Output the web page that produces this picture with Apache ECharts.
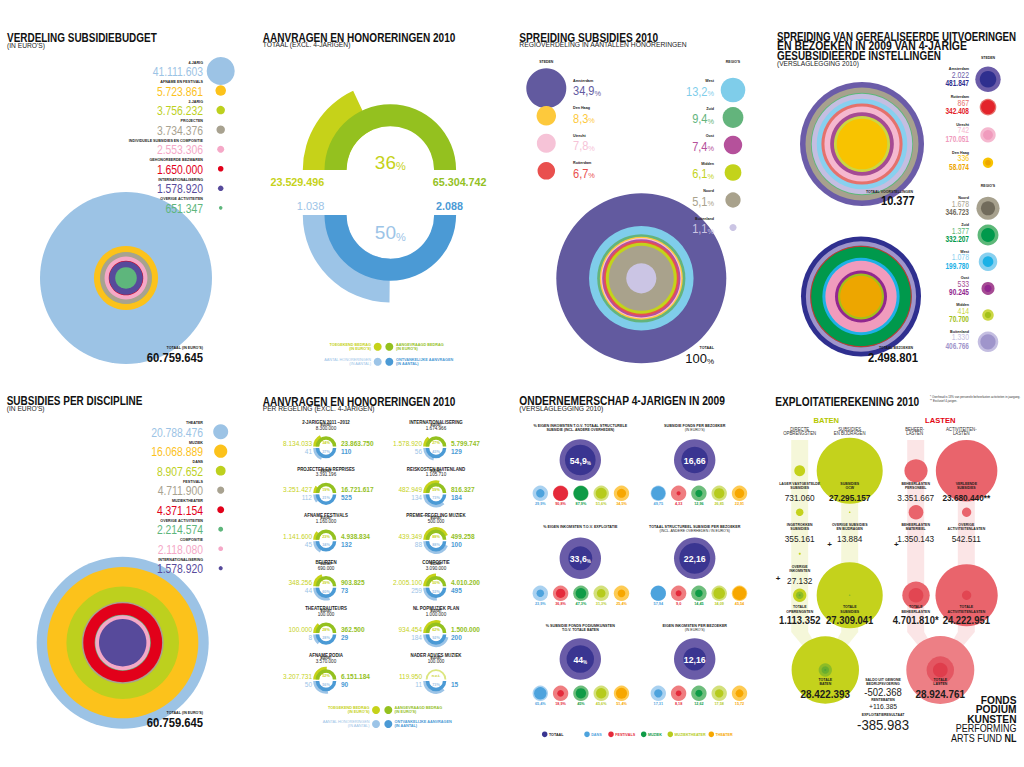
<!DOCTYPE html>
<html lang="nl"><head><meta charset="utf-8"><title>Fonds Podiumkunsten 2010</title>
<script src="https://cdn.jsdelivr.net/npm/echarts@6/dist/echarts.min.js"></script>
<style>html,body{margin:0;padding:0;background:#fff;overflow:hidden}#chart{width:1024px;height:767px}</style>
</head><body><div id="chart"></div>
<script>
// ===================== DATA =====================
const budgetCategories = ['4-JARIG','AFNAME EN FESTIVALS','2-JARIG','PROJECTEN','INDIVIDUELE SUBSIDIES EN COMPOSITIE','GEHONOREERDE BEZWAREN','INTERNATIONALISERING','OVERIGE ACTIVITEITEN'];
const budgetValues = [41111603, 5723861, 3756232, 3734376, 2553306, 1650000, 1578920, 651347];
const budgetTotal = 60759645;

const disciplineCategories = ['THEATER','MUZIEK','DANS','FESTIVALS','MUZIEKTHEATER','OVERIGE ACTIVITEITEN','COMPOSITIE','INTERNATIONALISERING'];
const disciplineValues = [20788476, 16068889, 8907652, 4711900, 4371154, 2214574, 2118080, 1578920];
const disciplineTotal = 60759645;

const totaalBedrag = [23529496, 65304742];   // toegekend, aangevraagd
const totaalAantal = [1038, 2088];           // honoreringen, ontvankelijke aanvragen

const cities = ['Amsterdam','Den Haag','Utrecht','Rotterdam'];
const cityShare = [34.9, 8.3, 7.8, 6.7];
const regions = ['West','Zuid','Oost','Midden','Noord','Buitenland'];
const regionShare = [13.2, 9.4, 7.4, 6.1, 5.1, 1.1];

const perfCities = ['Amsterdam','Rotterdam','Utrecht','Den Haag'];
const perfCityUitvoeringen = [2022, 867, 742, 336];
const perfCityBezoeken = [481847, 342408, 170051, 58074];
const perfRegions = ['Noord','Zuid','West','Oost','Midden','Buitenland'];
const perfRegionUitvoeringen = [1678, 1377, 1078, 533, 414, 1330];
const perfRegionBezoeken = [346723, 332207, 199780, 90245, 70700, 406766];
const totaalVoorstellingen = 10377, totaalBezoeken = 2498801;

const regelingen = ['2-JARIGEN 2011 \u20132012','INTERNATIONALISERING','PROJECTEN EN REPRISES','REISKOSTEN BUITENLAND','AFNAME FESTIVALS','PREMIE-REGELING MUZIEK','BEURZEN','COMPOSITIE','THEATERAUTEURS','NL POPMUZIEK PLAN','AFNAME PODIA','NADER ADVIES MUZIEK'];
const regelingBudget = [8300000, 1674966, 3391196, 1105710, 1160000, 500000, 690000, 3090000, 100000, 1000000, 3570000, 100000];
const regelingToegekend = [8134033, 1578920, 3251427, 482949, 1141600, 439349, 348256, 2005100, 100000, 934454, 3207731, 119950];
const regelingAangevraagd = [23863750, 5799747, 16721617, 816327, 4938834, 499258, 903825, 4010200, 362500, 1500000, 6151184, null];
const regelingHonoreringen = [41, 56, 112, 134, 45, 88, 44, 259, 8, 184, 50, 11];
const regelingAanvragen = [110, 129, 525, 184, 132, 100, 73, 495, 29, 200, 90, 15];

const ondDisciplines = ['DANS','FESTIVALS','MUZIEK','MUZIEKTHEATER','THEATER'];
const ondTitles = [
  ['% EIGEN INKOMSTEN T.O.V. TOTAAL STRUCTURELE', 'SUBSIDIE (INCL. ANDERE OVERHEDEN)'],
  ['SUBSIDIE FONDS PER BEZOEKER', "(IN EURO'S)"],
  ['% EIGEN INKOMSTEN T.O.V. EXPLOITATIE', ''],
  ['TOTAAL STRUCTUREEL SUBSIDIE PER BEZOEKER', "(INCL. ANDERE OVERHEDEN / IN EURO'S)"],
  ['% SUBSIDIE FONDS PODIUMKUNSTEN', 'T.O.V. TOTALE BATEN'],
  ['EIGEN INKOMSTEN PER BEZOEKER', "(IN EURO'S)"]
];
const ondIsPercent = [true, false, true, false, true, false];
const ondTotaal = [54.9, 16.66, 33.6, 22.16, 44, 12.16];
const ondDans = [29.9, 49.75, 23.9, 57.94, 65.4, 17.31];
const ondFestivals = [90.8, 4.33, 36.8, 9.0, 18.9, 8.18];
const ondMuziek = [87.9, 12.96, 47.3, 14.45, 45, 12.62];
const ondMuziektheater = [51.6, 26.85, 31.3, 34.09, 45.6, 17.58];
const ondTheater = [34.5, 22.91, 25.4, 45.54, 51.4, 15.72];

const opbrengstenLabels = ['LAGER VASTGESTELDE\nSUBSIDIES', 'INGETROKKEN\nSUBSIDIES', 'OVERIGE\nINKOMSTEN'];
const opbrengstenValues = [731060, 355161, 27132];
const subsidieLabels = ['SUBSIDIES\nOCW', 'OVERIGE SUBSIDIES\nEN BIJDRAGEN'];
const subsidieValues = [27295157, 13884];
const beheerLabels = ['BEHEERLASTEN\nPERSONEEL', 'BEHEERLASTEN\nMATERIEEL'];
const beheerValues = [3351667, 1350143];
const activiteitLabels = ['VERLEENDE\nSUBSIDIES', 'OVERIGE\nACTIVITEITENLASTEN'];
const activiteitValues = [23680440, 542511];
const totaalLabels = ['TOTALE\nOPBRENGSTEN', 'TOTALE\nSUBSIDIES', 'TOTALE\nBEHEERLASTEN', 'TOTALE\nACTIVITEITENLASTEN'];
const totaalValues = [1113352, 27309041, 4701810, 24222951];
const totaalNoten = ['', '', '*', ''];
const componentNoten = { 'VERLEENDE\nSUBSIDIES': '**' };
const totaleBaten = 28422393, totaleLasten = 28924761;
const saldoGewoon = -502368, rentebaten = 116385, exploitatieresultaat = -385983;

// ===================== HELPERS =====================
const FF = '"Liberation Sans", Arial, Helvetica, sans-serif';
const fmt = v => (v < 0 ? '-' : '') + String(Math.abs(Math.round(v))).replace(/\B(?=(\d{3})+(?!\d))/g, '.');
const dec = v => String(v).replace('.', ',');
const euro = v => (Number.isInteger(v) ? v.toFixed(1) : String(v)).replace('.', ',');
const maxOf = a => Math.max.apply(null, a);
const sqrtScale = (maxR, maxV) => v => maxR * Math.sqrt(Math.max(v, 0) / maxV);

const G = [], grids = [], xAxes = [], yAxes = [], series = [];
const mctx = document.createElement('canvas').getContext('2d');
function fnt(size, weight) { return (weight || 'normal') + ' ' + size + 'px ' + FF; }
function T(x, y, s, o) {
  o = o || {};
  const size = o.size || 8, weight = o.weight || 'normal', align = o.align || 'left', va = o.va || 'middle';
  let sx = o.sx || 1;
  if (o.w) { mctx.font = fnt(size, weight); sx = o.w / mctx.measureText(s).width; }
  const st = { text: s, fill: o.color || '#1d1d1b', font: fnt(size, weight), fontSize: size, fontWeight: weight, fontFamily: FF,
    textAlign: align, align: align, textVerticalAlign: va, verticalAlign: va, lineHeight: o.lh || size * 1.08 };
  if (o.rich) st.rich = o.rich;
  G.push({ type: 'text', x: x, y: y, scaleX: sx, z: 100, silent: true, style: st });
}
function richNP(nSize, pSize, color, weight) {
  const b = { fontFamily: FF, fill: color, fontWeight: weight || 'normal', verticalAlign: 'bottom' };
  return { n: Object.assign({ fontSize: nSize, font: fnt(nSize, weight) }, b), p: Object.assign({ fontSize: pSize, font: fnt(pSize, weight) }, b) };
}
function C(cx, cy, r, color) { G.push({ type: 'circle', shape: { cx: cx, cy: cy, r: r }, style: { fill: color }, z: 100, silent: true }); }
function P(points, color) { G.push({ type: 'polygon', shape: { points: points }, style: { fill: color }, z: 0, silent: true }); }

function addGrid(box, xa, ya) {
  grids.push(Object.assign({ show: false }, box));
  const gi = grids.length - 1;
  xAxes.push(Object.assign({ gridIndex: gi, show: false }, xa));
  yAxes.push(Object.assign({ gridIndex: gi, show: false }, ya));
  return gi;
}
function scatter(gi, data, rFn, z) {
  series.push({ type: 'scatter', xAxisIndex: gi, yAxisIndex: gi, silent: true, animation: false, symbol: 'circle',
    symbolSize: val => 2 * rFn(val[2]), data: data, z: z || 2, emphasis: { disabled: true } });
}
function concentric(cx, cy, values, colors, rFn, z) {
  const gi = addGrid({ left: cx - 1, top: cy - 1, width: 2, height: 2 }, { type: 'value', min: -1, max: 1 }, { type: 'value', min: -1, max: 1 });
  const order = values.map((v, i) => i).sort((a, b) => values[b] - values[a]);
  scatter(gi, order.map(i => ({ value: [0, 0, values[i]], itemStyle: { color: colors[i], opacity: 1 } })), rFn, z);
  return gi;
}
function dotColumn(cx, y0, step, cats) {
  return addGrid({ left: cx - 20, top: y0 - step / 2, width: 40, height: step * cats.length },
    { type: 'category', data: ['c'] }, { type: 'category', data: cats, inverse: true });
}
function colData(values, colors) { return values.map((v, i) => ({ value: [0, i, v], itemStyle: { color: colors[i], opacity: 1 } })); }
function halfDonut(cx, cy, whole, part, cWhole, cPart, rIn, rOut, rWedge, top) {
  const base = { type: 'pie', center: [cx, cy], startAngle: 180, clockwise: top, silent: true, animation: false,
    label: { show: false }, labelLine: { show: false }, emphasis: { disabled: true }, avoidLabelOverlap: false, z: 2,
    itemStyle: { borderWidth: 0 } };
  series.push(Object.assign({}, base, { radius: [rIn, rWedge], data: [
    { value: part, itemStyle: { color: cPart } }, { value: 2 * whole - part, itemStyle: { color: 'rgba(0,0,0,0)' } }] }));
  series.push(Object.assign({}, base, { radius: [rIn, rOut], data: [
    { value: whole, itemStyle: { color: cWhole } }, { value: whole, itemStyle: { color: 'rgba(0,0,0,0)' } }] }));
}
const tiny = (x, y, s, o) => T(x, y, s, Object.assign({ size: 4.3, weight: 'bold', sx: 0.92 }, o || {}));

// ===================== COLOURS =====================
const budgetColors = ['#9cc3e5','#fcc21b','#bdd01e','#a8a290','#f5a8c7','#e2001a','#574a9b','#5eb67c'];
const disciplineColors = ['#9cc3e5','#fcc21b','#bdd01e','#a8a290','#e2001a','#5eb67c','#f5a8c7','#574a9b'];
const LG = '#c6d219', DG = '#94c11f', LB = '#9cc4e7', DB = '#4b9ad5';
const cityColors = ['#625a9f','#fdc93c','#f6c3d7','#e9504e'];
const regionColors = ['#7fcdea','#63b47c','#b5519b','#c3d31b','#a9a28c','#cbc5e4'];
const perfLight = { Amsterdam:'#6b5ca8', Rotterdam:'#e5716c', Utrecht:'#f5b8cf', 'Den Haag':'#f8c300', Noord:'#a7a18e', Zuid:'#5db879', West:'#88d0ef', Oost:'#a54b93', Midden:'#cbd744', Buitenland:'#c4bee1' };
const perfDark = { Amsterdam:'#2f2f8f', Rotterdam:'#e3242b', Utrecht:'#f09bbd', 'Den Haag':'#eda600', Noord:'#716b5c', Zuid:'#00994c', West:'#1cb1e6', Oost:'#92278f', Midden:'#a3c11b', Buitenland:'#9f95cb' };
const ondLight = ['#a9d1f0','#ef7d80','#6dbd7c','#d3e07c','#fdcb54'];
const ondDark = ['#4da3dd','#e52a3b','#0f9b47','#b6cb1d','#f7a700'];
const TOT_L = '#6a5ca8', TOT_D = '#3a3591';
const GREEN8 = '#c4d21c', RED8 = '#e9646c';

// ===================== TITLES =====================
function title(x, y, s, w, size) { T(x, y, s, { size: size || 13, weight: 'bold', w: w, color: '#111', lh: size ? 9 : 13 }); }
function sub(x, y, s, w) { T(x, y, s, { size: 7.5, w: w, color: '#222', lh: 7.5 }); }
title(7, 37.5, 'VERDELING SUBSIDIEBUDGET', 150); sub(7, 45.5, "(IN EURO'S)", 38);
title(262.7, 37, 'AANVRAGEN EN HONORERINGEN 2010', 193); sub(262.7, 45.3, 'TOTAAL (EXCL. 4-JARIGEN)', 88);
title(519.3, 37, 'SPREIDING SUBSIDIES 2010', 139); sub(519.3, 44.8, 'REGIOVERDELING IN AANTALLEN HONORERINGEN', 168);
title(777, 37, 'SPREIDING VAN GEREALISEERDE UITVOERINGEN', 239.5, 12);
title(777, 46.2, 'EN BEZOEKEN IN 2009 VAN 4-JARIGE', 190, 12);
title(777, 55.4, 'GESUBSIDIEERDE INSTELLINGEN', 164, 12); sub(777, 63.8, '(VERSLAGLEGGING 2010)', 82);
title(6.7, 400.5, 'SUBSIDIES PER DISCIPLINE', 136); sub(6.7, 408.5, "(IN EURO'S)", 38);
title(262.7, 400.5, 'AANVRAGEN EN HONORERINGEN 2010', 193); sub(262.7, 408.7, 'PER REGELING (EXCL. 4-JARIGEN)', 112);
title(519.3, 400.5, 'ONDERNEMERSCHAP 4-JARIGEN IN 2009', 206); sub(519.3, 408.7, '(VERSLAGLEGGING 2010)', 84);
title(775.3, 400.5, 'EXPLOITATIEREKENING 2010', 144);

// ===================== PANEL 1 & 5 =====================
function budgetPanel(cats, values, colors, L, total) {
  cats.forEach((c, i) => {
    const y = L.y0 + i * L.step;
    tiny(L.numX, y - 8.4, c, { align: 'right', size: 4 });
    T(L.numX, y + 0.6, fmt(values[i]), { size: 12.5, align: 'right', sx: 0.83, color: colors[i], lh: 11 });
  });
  const gi = dotColumn(L.dotX, L.y0, L.step, cats);
  scatter(gi, colData(values, colors), sqrtScale(L.dotR, maxOf(values)));
  concentric(L.cx, L.cy, values, colors, sqrtScale(L.R, maxOf(values)));
  T(L.numX, L.totY - 9.4, "TOTAAL (IN EURO'S)", { size: 4, weight: 'bold', align: 'right', sx: 0.92 });
  T(L.numX, L.totY, fmt(total), { size: 12.5, weight: 'bold', align: 'right', sx: 0.9, color: '#111', lh: 11 });
}
budgetPanel(budgetCategories, budgetValues, budgetColors, { numX: 203, dotX: 220.7, y0: 71, step: 19.55, dotR: 14, cx: 126, cy: 278, R: 86, totY: 357.7 }, budgetTotal);
budgetPanel(disciplineCategories, disciplineValues, disciplineColors, { numX: 203, dotX: 220.7, y0: 431.7, step: 19.5, dotR: 7.5, cx: 122.7, cy: 642.7, R: 86, totY: 722.7 }, disciplineTotal);

// ===================== PANEL 2 =====================
const L2 = { cx: 390.3, cyTop: 170, cyBot: 215, rIn: 43.8, rOut: 65.8, rWedge: 87.5 };
halfDonut(L2.cx, L2.cyTop, totaalBedrag[1], totaalBedrag[0], DG, LG, L2.rIn, L2.rOut, L2.rWedge, true);
halfDonut(L2.cx, L2.cyBot, totaalAantal[1], totaalAantal[0], DB, LB, L2.rIn, L2.rOut, L2.rWedge, false);
T(L2.cx, 161.7, '{n|' + Math.round(totaalBedrag[0] / totaalBedrag[1] * 100) + '}{p|%}', { align: 'center', rich: richNP(19, 11, LG), color: LG, size: 19 });
T(L2.cx, 232, '{n|' + Math.round(totaalAantal[0] / totaalAantal[1] * 100) + '}{p|%}', { align: 'center', rich: richNP(19, 11, LB), color: LB, size: 19 });
T(324.3, 182, fmt(totaalBedrag[0]), { size: 11, weight: 'bold', align: 'right', color: LG, sx: 0.98 });
T(432.7, 182, fmt(totaalBedrag[1]), { size: 11, weight: 'bold', color: DG, sx: 0.98 });
T(324.3, 206, fmt(totaalAantal[0]), { size: 11, align: 'right', color: LB });
T(436, 206, fmt(totaalAantal[1]), { size: 11, weight: 'bold', color: DB, sx: 0.98 });
function amountLegend(y1, y2, xl, xr, txL, txR) {
  C(xl, y1, 4, LG); C(xr, y1, 4, DG); C(xl, y2, 4, LB); C(xr, y2, 4, DB);
  T(txL, y1, "TOEGEKEND BEDRAG\n(IN EURO'S)", { size: 3.8, align: 'right', color: LG, weight: 'bold' });
  T(txR, y1, "AANGEVRAAGD BEDRAG\n(IN EURO'S)", { size: 3.8, color: DG, weight: 'bold' });
  T(txL, y2, 'AANTAL HONORERINGEN\n(IN AANTAL)', { size: 3.8, align: 'right', color: LB });
  T(txR, y2, 'ONTVANKELIJKE AANVRAGEN\n(IN AANTAL)', { size: 3.8, color: DB, weight: 'bold' });
}
amountLegend(346.7, 361.7, 377.7, 389.3, 371, 396);

// ===================== PANEL 3 =====================
const L3 = { cityX: 546.3, regionX: 733, cityY0: 88.3, regionY0: 90, step: 27.5, cityTextX: 573, regionTextX: 714, dotR: 20, cx: 641.3, cy: 278.3, R: 85 };
const allShare = cityShare.concat(regionShare), allShareColors = cityColors.concat(regionColors);
const r3dot = sqrtScale(L3.dotR, maxOf(allShare));
let gi3 = dotColumn(L3.cityX, L3.cityY0, L3.step, cities);
scatter(gi3, colData(cityShare, cityColors), r3dot);
gi3 = dotColumn(L3.regionX, L3.regionY0, L3.step, regions);
scatter(gi3, colData(regionShare, regionColors), r3dot);
concentric(L3.cx, L3.cy, allShare, allShareColors, sqrtScale(L3.R, maxOf(allShare)));
tiny(L3.cityX, 62, 'STEDEN', { align: 'center', size: 3.8 });
tiny(L3.regionX, 62, "REGIO'S", { align: 'center', size: 3.8 });
cities.forEach((c, i) => {
  const y = L3.cityY0 + i * L3.step;
  tiny(L3.cityTextX, y - 7.8, c, { size: 4 });
  T(L3.cityTextX, y + 2.5, '{n|' + dec(cityShare[i]) + '}{p|%}', { rich: richNP(12, 8, cityColors[i]), sx: 0.92, size: 12 });
});
regions.forEach((c, i) => {
  const y = L3.regionY0 + i * L3.step;
  tiny(L3.regionTextX, y - 9, c, { size: 4, align: 'right' });
  T(L3.regionTextX, y + 1, '{n|' + dec(regionShare[i]) + '}{p|%}', { rich: richNP(12, 8, regionColors[i]), sx: 0.92, size: 12, align: 'right' });
});
tiny(714, 348, 'TOTAAL', { align: 'right', size: 4 });
T(714, 358, '{n|100}{p|%}', { rich: richNP(13, 8, '#111'), align: 'right', size: 13 });

// ===================== PANEL 4 =====================
const L4 = { dotX: 988, cityY0: 79.3, cityStep: 27.8, regionY0: 208.3, regionStep: 26.7, textX: 969, outerR: 12.7, innerR: 8.3,
  top: { cx: 862, cy: 144, R: 62 }, bot: { cx: 861, cy: 296.5, R: 60 } };
const perfAll = perfCities.concat(perfRegions);
const perfUitv = perfCityUitvoeringen.concat(perfRegionUitvoeringen);
const perfBez = perfCityBezoeken.concat(perfRegionBezoeken);
const rOuter4 = sqrtScale(L4.outerR, maxOf(perfUitv)), rInner4 = sqrtScale(L4.innerR, maxOf(perfBez));
function perfLegend(names, uitv, bez, y0, step) {
  const gi = dotColumn(L4.dotX, y0, step, names);
  scatter(gi, colData(uitv, names.map(n => perfLight[n])), rOuter4, 2);
  scatter(gi, colData(bez, names.map(n => perfDark[n])), rInner4, 3);
  names.forEach((n, i) => {
    const y = y0 + i * step;
    tiny(L4.textX, y - 10, n, { align: 'right', size: 4 });
    T(L4.textX, y - 4.2, fmt(uitv[i]), { size: 8.8, align: 'right', sx: 0.78, color: perfLight[n], lh: 8 });
    T(L4.textX, y + 4, fmt(bez[i]), { size: 8.8, weight: 'bold', align: 'right', sx: 0.74, color: perfDark[n], lh: 8 });
  });
}
perfLegend(perfCities, perfCityUitvoeringen, perfCityBezoeken, L4.cityY0, L4.cityStep);
perfLegend(perfRegions, perfRegionUitvoeringen, perfRegionBezoeken, L4.regionY0, L4.regionStep);
tiny(L4.dotX, 58, 'STEDEN', { align: 'center', size: 3.8 });
tiny(L4.dotX, 185.7, "REGIO'S", { align: 'center', size: 3.8 });
concentric(L4.top.cx, L4.top.cy, perfUitv, perfAll.map(n => perfLight[n]), sqrtScale(L4.top.R, maxOf(perfUitv)));
concentric(L4.bot.cx, L4.bot.cy, perfBez, perfAll.map(n => perfDark[n]), sqrtScale(L4.bot.R, maxOf(perfBez)));
tiny(913, 191.7, 'TOTAAL VOORSTELLINGEN', { align: 'right', size: 3.8 });
T(914.7, 200.5, fmt(totaalVoorstellingen), { size: 12.5, weight: 'bold', align: 'right', sx: 0.88, color: '#111', lh: 11 });
tiny(913, 348, 'TOTAAL BEZOEKEN', { align: 'right', size: 3.8 });
T(918, 358, fmt(totaalBezoeken), { size: 12.5, weight: 'bold', align: 'right', sx: 0.9, color: '#111', lh: 11 });

// ===================== PANEL 6 =====================
const L6 = { colX: [326, 436], rowY0: 447, rowStep: 46.6, rIn: 6.8, rOut: 10.3, rWedge: 12.8, numL: 14, numR: 15 };
regelingen.forEach((name, i) => {
  const cx = L6.colX[i % 2], y = L6.rowY0 + Math.floor(i / 2) * L6.rowStep;
  const toeg = regelingToegekend[i], aang = regelingAangevraagd[i], hon = regelingHonoreringen[i], aanv = regelingAanvragen[i];
  T(cx, y - 25.3, name, { size: 5.5, weight: 'bold', align: 'center', sx: 0.8 });
  T(cx, y - 22, 'BUDGET', { size: 2.6, weight: 'bold', align: 'center' });
  T(cx, y - 18.8, fmt(regelingBudget[i]), { size: 4.6, align: 'center' });
  if (aang != null) {
    halfDonut(cx, y - 0.5, aang, toeg, DG, LG, L6.rIn, L6.rOut, L6.rWedge, true);
  } else {
    series.push({ type: 'pie', center: [cx, y - 0.5], radius: [L6.rOut - 1.8, L6.rOut], startAngle: 180, clockwise: true, silent: true, animation: false,
      label: { show: false }, labelLine: { show: false }, emphasis: { disabled: true },
      data: [{ value: toeg, itemStyle: { color: '#dce67f' } }, { value: toeg, itemStyle: { color: 'rgba(0,0,0,0)' } }] });
  }
  halfDonut(cx, y + 1, aanv, hon, DB, LB, L6.rIn, L6.rOut, L6.rWedge, false);
  T(cx, y - 3.6, aang != null ? Math.round(toeg / aang * 100) + '%' : 'n.v.t.', { size: 3.8, align: 'center', color: LG, weight: 'bold' });
  T(cx, y + 4.8, Math.round(hon / aanv * 100) + '%', { size: 3.8, align: 'center', color: LB, weight: 'bold' });
  T(cx - L6.numL, y - 4, fmt(toeg), { size: 6.5, align: 'right', color: LG, lh: 6.5 });
  T(cx - L6.numL, y + 4, fmt(hon), { size: 6.5, align: 'right', color: LB, lh: 6.5 });
  if (aang != null) T(cx + L6.numR, y - 4, fmt(aang), { size: 6.5, weight: 'bold', color: DG, lh: 6.5 });
  T(cx + L6.numR, y + 4, fmt(aanv), { size: 6.5, weight: 'bold', color: DB, lh: 6.5 });
});
amountLegend(710, 724, 376, 388.3, 369.5, 394.5);

// ===================== PANEL 7 =====================
const L7 = { colX: [580.3, 694.7], smallX0: [540.3, 658.3], smallStep: 20.3, headY: [425, 526, 625], bigY: [460, 558.3, 659], smallY: [493.3, 593.3, 693.3],
  bigR: 20.7, smallR: 7.7, refPct: 100, refEuroBig: 40, refEuroSmall: 60 };
ondTitles.forEach((t, g) => {
  const col = g % 2, row = Math.floor(g / 2), cx = L7.colX[col];
  const ref = ondIsPercent[g] ? L7.refPct : L7.refEuroBig;
  const refS = ondIsPercent[g] ? L7.refPct : L7.refEuroSmall;
  tiny(cx, L7.headY[row], t[0], { align: 'center', size: 4.2, sx: 0.88 });
  if (t[1]) T(cx, L7.headY[row] + 4.5, t[1], { align: 'center', size: 4, sx: 0.88, weight: ondIsPercent[g] ? 'bold' : 'normal' });
  concentric(cx, L7.bigY[row], [ref, ondTotaal[g]], [TOT_L, TOT_D], sqrtScale(L7.bigR, ref));
  const label = ondIsPercent[g] ? '{n|' + dec(ondTotaal[g]) + '}{p|%}' : '{n|' + euro(ondTotaal[g]) + '}';
  T(cx, L7.bigY[row] + 0.5, label, { align: 'center', rich: richNP(9.5, 5, '#fff', 'bold'), size: 9.5, sx: 0.92 });
  const vals = [ondDans[g], ondFestivals[g], ondMuziek[g], ondMuziektheater[g], ondTheater[g]];
  const x0 = L7.smallX0[col], sy = L7.smallY[row];
  const gi = addGrid({ left: x0 - L7.smallStep / 2, top: sy - 10, width: L7.smallStep * 5, height: 20 },
    { type: 'category', data: ondDisciplines }, { type: 'value', min: -1, max: 1 });
  const rS = sqrtScale(L7.smallR, refS);
  scatter(gi, vals.map((v, i) => ({ value: [i, 0, refS], itemStyle: { color: ondLight[i], opacity: 1 } })), rS, 2);
  scatter(gi, vals.map((v, i) => ({ value: [i, 0, v], itemStyle: { color: ondDark[i], opacity: 1 } })), rS, 3);
  vals.forEach((v, i) => {
    T(x0 + i * L7.smallStep, sy + 10, ondIsPercent[g] ? dec(v) + '%' : euro(v), { size: 4.2, weight: 'bold', align: 'center', color: ondDark[i], sx: 0.9 });
  });
});
const legend7 = [['TOTAAL', TOT_D, 544.7]].concat(ondDisciplines.map((d, i) => [d, ondDark[i], [587, 611, 643.7, 670.3, 711.3][i]]));
legend7.forEach(l => { C(l[2], 734.3, 2.8, l[1]); T(l[2] + 4.2, 734.5, l[0], { size: 4, weight: 'bold', color: l[0] === 'TOTAAL' ? '#1d1d1b' : l[1], sx: 0.92 }); });

// ===================== PANEL 8 =====================
const L8 = { batenX: [799.7, 849.7], lastenX: [915.7, 966.3], rowTop: 450, rowStep: 41.5, bottomY: 670, bottomX: [825.3, 940.3], R: 34 };
const r8 = sqrtScale(L8.R, Math.max(totaleBaten, totaleLasten));
const rowY8 = r => L8.rowTop + (r + 0.5) * L8.rowStep;
const OVG = 'rgba(40,150,60,0.35)', OVR = 'rgba(215,25,45,0.4)';
// bands (decoration)
const colXs8 = L8.batenX.concat(L8.lastenX), bandTarget = [L8.bottomX[0], L8.bottomX[0], L8.bottomX[1], L8.bottomX[1]];
colXs8.forEach((x, i) => {
  const c = i < 2 ? 'rgba(196,210,28,0.17)' : 'rgba(233,100,108,0.17)';
  P([[x - 8.5, 440], [x + 8.5, 440], [x + 8.5, 632], [bandTarget[i] + 4, 668], [bandTarget[i] - 4, 668], [x - 8.5, 632]], c);
});
function side8(xs, colA, colB, totA, totB, color, overlayColor, cats) {
  const gi = addGrid({ left: xs[0] - 25, top: L8.rowTop, width: 2 * (xs[1] - xs[0]), height: 4 * L8.rowStep },
    { type: 'category', data: cats }, { type: 'category', data: ['r0', 'r1', 'r2', 'tot'], inverse: true });
  const main = colA.map((v, r) => ({ value: [0, r, v], itemStyle: { color: color, opacity: 1 } }))
    .concat(colB.map((v, r) => ({ value: [1, r, v], itemStyle: { color: color, opacity: 1 } })))
    .concat([{ value: [0, 3, totA], itemStyle: { color: color, opacity: 1 } }, { value: [1, 3, totB], itemStyle: { color: color, opacity: 1 } }]);
  scatter(gi, main, r8, 2);
  const ov = colA.slice(1).map(v => ({ value: [0, 3, v], itemStyle: { color: overlayColor, opacity: 1 } }))
    .concat(colB.slice(1).map(v => ({ value: [1, 3, v], itemStyle: { color: overlayColor, opacity: 1 } })));
  scatter(gi, ov, r8, 3);
}
side8(L8.batenX, opbrengstenValues, subsidieValues, totaalValues[0], totaalValues[1], GREEN8, OVG, ['DIRECTE OPBRENGSTEN', 'SUBSIDIES EN BIJDRAGEN']);
side8(L8.lastenX, beheerValues, activiteitValues, totaalValues[2], totaalValues[3], RED8, OVR, ['BEHEERLASTEN', 'ACTIVITEITENLASTEN']);
// bottom totals
const giB = addGrid({ left: L8.bottomX[0] - (L8.bottomX[1] - L8.bottomX[0]) / 2, top: L8.bottomY - 10, width: 2 * (L8.bottomX[1] - L8.bottomX[0]), height: 20 },
  { type: 'category', data: ['BATEN', 'LASTEN'] }, { type: 'value', min: -1, max: 1 });
scatter(giB, [{ value: [0, 0, totaleBaten], itemStyle: { color: GREEN8, opacity: 1 } }, { value: [1, 0, totaleLasten], itemStyle: { color: '#ed7f85', opacity: 1 } }], r8, 2);
scatter(giB, [totaalValues[0]].concat(opbrengstenValues.slice(1)).map(v => ({ value: [0, 0, v], itemStyle: { color: OVG, opacity: 1 } }))
  .concat([totaalValues[2]].concat(beheerValues.slice(1)).map(v => ({ value: [1, 0, v], itemStyle: { color: OVR, opacity: 1 } }))), r8, 3);
// texts
T(826.3, 420, 'BATEN', { size: 8, weight: 'bold', align: 'center', color: '#b5c800', sx: 0.95 });
T(940.3, 420, 'LASTEN', { size: 8, weight: 'bold', align: 'center', color: '#e30613', sx: 0.95 });
[['DIRECTE\nOPBRENGSTEN', 799.7], ['SUBSIDIES\nEN BIJDRAGEN', 849.7], ['BEHEER-\nLASTEN', 914.7], ['ACTIVITEITEN-\nLASTEN', 961.3]].forEach(h => {
  T(h[1], 431.5, h[0], { size: 4.8, align: 'center', color: '#333', sx: 0.9, lh: 4.8 });
});
function colTexts(x, labels, values) {
  labels.forEach((lab, r) => {
    const y = rowY8(r);
    tiny(x, y + 15, lab, { align: 'center', size: 3.8, lh: 4.1 });
    T(x, y + 27, fmt(values[r]) + (componentNoten[lab] || ''), { size: 9, align: 'center', sx: 0.92, weight: values[r] > 1e7 ? 'bold' : 'normal', color: '#1d1d1b', lh: 8 });
  });
}
colTexts(L8.batenX[0], opbrengstenLabels, opbrengstenValues);
colTexts(L8.batenX[1], subsidieLabels, subsidieValues);
colTexts(L8.lastenX[0], beheerLabels, beheerValues);
colTexts(L8.lastenX[1], activiteitLabels, activiteitValues);
colXs8.forEach((x, i) => {
  const y = rowY8(3);
  tiny(x, y + 14.2, totaalLabels[i], { align: 'center', size: 3.8, lh: 4.1 });
  T(x, y + 24.8, fmt(totaalValues[i]) + totaalNoten[i], { size: 11, weight: 'bold', align: 'center', sx: 0.86, color: '#1d1d1b', lh: 9.5 });
});
T(778, 578.3, '+', { size: 8, weight: 'bold', align: 'center' });
T(829.7, 544.3, '+', { size: 8, weight: 'bold', align: 'center' });
T(896.3, 544.3, '+', { size: 8, weight: 'bold', align: 'center' });
tiny(L8.bottomX[0], 682, 'TOTALE\nBATEN', { align: 'center', size: 3.8, lh: 4.1 });
T(L8.bottomX[0], 693.5, fmt(totaleBaten), { size: 11.5, weight: 'bold', align: 'center', sx: 0.86, color: '#1d1d1b', lh: 10 });
tiny(L8.bottomX[1], 682, 'TOTALE\nLASTEN', { align: 'center', size: 3.8, lh: 4.1 });
T(L8.bottomX[1], 693.5, fmt(totaleLasten), { size: 11.5, weight: 'bold', align: 'center', sx: 0.86, color: '#1d1d1b', lh: 10 });
tiny(883, 682, 'SALDO UIT GEWONE\nBEDRIJFSVOERING', { align: 'center', size: 3.8, lh: 4.1 });
T(883, 692, fmt(saldoGewoon), { size: 10, align: 'center', sx: 0.95, lh: 8 });
tiny(883, 700, 'RENTEBATEN', { align: 'center', size: 3.8 });
T(883, 706.8, '+' + fmt(rentebaten), { size: 7.5, align: 'center', sx: 0.9, lh: 6.5 });
tiny(883, 715, 'EXPLOITATIERESULTAAT', { align: 'center', size: 3.8 });
T(883, 724.5, fmt(exploitatieresultaat), { size: 15, align: 'center', sx: 0.88, lh: 12 });
T(930, 397.3, '* Overhead is 13% van personele beheerlasten activiteiten in jaargang.', { size: 3.2, color: '#333', sx: 0.9 });
T(930, 401.4, '** Exclusief 4-jarigen.', { size: 3.2, color: '#333', sx: 0.9 });
// logo
const logoLH = 8.6;
T(1016.5, 700.5, 'FONDS', { size: 10.2, weight: 'bold', align: 'right', color: '#111', lh: logoLH });
T(1016.5, 709.9, 'PODIUM', { size: 10.2, weight: 'bold', align: 'right', color: '#111', lh: logoLH });
T(1016.5, 719.3, 'KUNSTEN', { size: 10.2, weight: 'bold', align: 'right', color: '#111', lh: logoLH });
T(1016.5, 728.6, 'PERFORMING', { size: 10.2, align: 'right', color: '#111', sx: 0.88, lh: logoLH });
T(1016.5, 737.9, '{a|ARTS FUND }{b|NL}', { size: 10.2, align: 'right', sx: 0.88, lh: logoLH, rich: {
  a: { fontSize: 10.2, fontFamily: FF, fill: '#111', font: fnt(10.2), lineHeight: logoLH }, b: { fontSize: 10.2, fontFamily: FF, fontWeight: 'bold', fill: '#111', font: fnt(10.2, 'bold'), lineHeight: logoLH } } });

// ===================== RENDER =====================
const chart = echarts.init(document.getElementById('chart'), null, { renderer: 'svg', width: 1024, height: 767 });
chart.setOption({
  backgroundColor: '#ffffff', animation: false, textStyle: { fontFamily: FF },
  grid: grids, xAxis: xAxes, yAxis: yAxes, series: series, graphic: { elements: G }
});
</script></body></html>
